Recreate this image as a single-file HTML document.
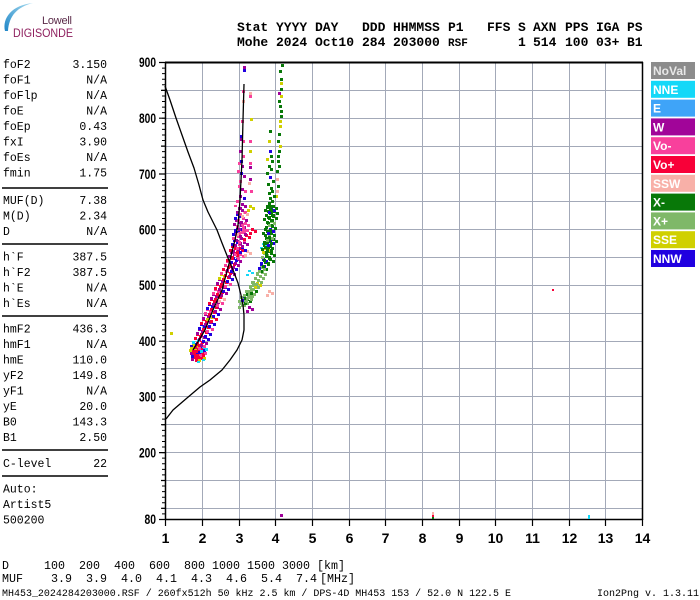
<!DOCTYPE html>
<html><head><meta charset="utf-8"><style>
html,body{margin:0;padding:0;background:#fff;}
svg{display:block;}
.m{font-family:"Liberation Mono",monospace;}
.s{font-family:"Liberation Sans",sans-serif;}
</style></head><body>
<svg width="700" height="600" viewBox="0 0 700 600" xmlns="http://www.w3.org/2000/svg">
<rect width="700" height="600" fill="#fff"/>
<!-- logo -->
<defs><linearGradient id="lg" x1="0" y1="1" x2="1" y2="0"><stop offset="0" stop-color="#1f86c8"/><stop offset="1" stop-color="#a8dcf0"/></linearGradient>
<clipPath id="lo"><rect x="160" y="205" width="140" height="160"/></clipPath></defs>
<path d="M5,31 C2,18 12,5 33,3 C17,7 9,16 8,31 Z" fill="url(#lg)"/>
<text x="42" y="24" class="s" font-family="Liberation Serif,serif" font-size="11" fill="#5a2a48" textLength="30">Lowell</text>
<text x="13" y="37" class="s" font-size="12" fill="#8e1f5e" textLength="60" lengthAdjust="spacingAndGlyphs">DIGISONDE</text>
<!-- header -->
<g class="m" font-size="13" font-weight="bold" fill="#000">
<text x="237" y="31">Stat</text><text x="276" y="31">YYYY</text><text x="315" y="31">DAY</text><text x="362" y="31">DDD</text><text x="393" y="31">HHMMSS</text><text x="448" y="31">P1</text><text x="487" y="31">FFS</text><text x="518" y="31">S</text><text x="533" y="31">AXN</text><text x="565" y="31">PPS</text><text x="596" y="31">IGA</text><text x="627" y="31">PS</text>
<text x="237" y="46">Mohe</text><text x="276" y="46">2024</text><text x="315" y="46">Oct10</text><text x="362" y="46">284</text><text x="393" y="46">203000</text><text x="448" y="46" font-size="11">RSF</text><text x="518" y="46">1</text><text x="533" y="46">514</text><text x="565" y="46">100</text><text x="596" y="46">03+</text><text x="627" y="46">B1</text>
</g>
<!-- left panel -->
<g class="m" font-size="11.5" fill="#000">
<text x="3" y="68">foF2</text><text x="107" y="68" text-anchor="end">3.150</text>
<text x="3" y="83.5">foF1</text><text x="107" y="83.5" text-anchor="end">N/A</text>
<text x="3" y="99">foFlp</text><text x="107" y="99" text-anchor="end">N/A</text>
<text x="3" y="114.5">foE</text><text x="107" y="114.5" text-anchor="end">N/A</text>
<text x="3" y="130">foEp</text><text x="107" y="130" text-anchor="end">0.43</text>
<text x="3" y="145.5">fxI</text><text x="107" y="145.5" text-anchor="end">3.90</text>
<text x="3" y="161">foEs</text><text x="107" y="161" text-anchor="end">N/A</text>
<text x="3" y="176.5">fmin</text><text x="107" y="176.5" text-anchor="end">1.75</text>
<text x="3" y="204">MUF(D)</text><text x="107" y="204" text-anchor="end">7.38</text>
<text x="3" y="219.5">M(D)</text><text x="107" y="219.5" text-anchor="end">2.34</text>
<text x="3" y="235">D</text><text x="107" y="235" text-anchor="end">N/A</text>
<text x="3" y="260.5">h`F</text><text x="107" y="260.5" text-anchor="end">387.5</text>
<text x="3" y="276">h`F2</text><text x="107" y="276" text-anchor="end">387.5</text>
<text x="3" y="291.5">h`E</text><text x="107" y="291.5" text-anchor="end">N/A</text>
<text x="3" y="307">h`Es</text><text x="107" y="307" text-anchor="end">N/A</text>
<text x="3" y="332.5">hmF2</text><text x="107" y="332.5" text-anchor="end">436.3</text>
<text x="3" y="348">hmF1</text><text x="107" y="348" text-anchor="end">N/A</text>
<text x="3" y="363.5">hmE</text><text x="107" y="363.5" text-anchor="end">110.0</text>
<text x="3" y="379">yF2</text><text x="107" y="379" text-anchor="end">149.8</text>
<text x="3" y="394.5">yF1</text><text x="107" y="394.5" text-anchor="end">N/A</text>
<text x="3" y="410">yE</text><text x="107" y="410" text-anchor="end">20.0</text>
<text x="3" y="425.5">B0</text><text x="107" y="425.5" text-anchor="end">143.3</text>
<text x="3" y="441">B1</text><text x="107" y="441" text-anchor="end">2.50</text>
<text x="3" y="467">C-level</text><text x="107" y="467" text-anchor="end">22</text>
<text x="3" y="492.5">Auto:</text>
<text x="3" y="508">Artist5</text>
<text x="3" y="523.5">500200</text>
</g>
<g stroke="#000" stroke-width="1.5">
<line x1="2" y1="188" x2="108" y2="188"/><line x1="2" y1="244" x2="108" y2="244"/><line x1="2" y1="316" x2="108" y2="316"/><line x1="2" y1="450" x2="108" y2="450"/><line x1="2" y1="476" x2="108" y2="476"/>
</g>
<!-- grid -->
<g stroke="#a3a9b8" stroke-width="1">
<path d="M165,90.5H643M165,118.5H643M165,146.5H643M165,173.5H643M165,201.5H643M165,229.5H643M165,257.5H643M165,285.5H643M165,313.5H643M165,341.5H643M165,368.5H643M165,396.5H643M165,424.5H643M165,452.5H643M165,480.5H643M165,508.5H643"/>
<path d="M202.5,62V519M239.5,62V519M275.5,62V519M312.5,62V519M349.5,62V519M385.5,62V519M422.5,62V519M459.5,62V519M495.5,62V519M532.5,62V519M569.5,62V519M605.5,62V519"/>
</g>
<!-- axes -->
<g stroke="#000" fill="none">
<line x1="165" y1="62.5" x2="643" y2="62.5" stroke-width="2"/>
<line x1="642.5" y1="62" x2="642.5" y2="520" stroke-width="1.5"/>
<line x1="165.5" y1="62" x2="165.5" y2="520" stroke-width="1.5"/>
<line x1="165" y1="519.5" x2="643" y2="519.5" stroke-width="1.5"/>
<line x1="163.5" y1="62" x2="163.5" y2="520" stroke-width="3" stroke-dasharray="1 4.573"/>
<path stroke-width="1.2" d="M159,62.5H166M159,118.2H166M159,174H166M159,229.7H166M159,285.4H166M159,341.2H166M159,396.9H166M159,452.6H166M159,519.5H166M161,90.4H166M161,146.1H166M161,201.8H166M161,257.6H166M161,313.3H166M161,369H166M161,424.7H166M161,480.5H166M161,508.3H166"/>
<path stroke-width="1.2" d="M165.5,519V526M202.5,519V526M239.5,519V526M275.5,519V526M312.5,519V526M349.5,519V526M385.5,519V526M422.5,519V526M459.5,519V526M495.5,519V526M532.5,519V526M569.5,519V526M605.5,519V526M642.5,519V526"/>
</g>
<g class="s" font-weight="bold" font-size="13.5" fill="#000" text-anchor="end">
<text x="156" y="67" textLength="17" lengthAdjust="spacingAndGlyphs">900</text>
<text x="156" y="123" textLength="17" lengthAdjust="spacingAndGlyphs">800</text>
<text x="156" y="179" textLength="17" lengthAdjust="spacingAndGlyphs">700</text>
<text x="156" y="234.5" textLength="17" lengthAdjust="spacingAndGlyphs">600</text>
<text x="156" y="290" textLength="17" lengthAdjust="spacingAndGlyphs">500</text>
<text x="156" y="346" textLength="17" lengthAdjust="spacingAndGlyphs">400</text>
<text x="156" y="401.5" textLength="17" lengthAdjust="spacingAndGlyphs">300</text>
<text x="156" y="457.5" textLength="17" lengthAdjust="spacingAndGlyphs">200</text>
<text x="156" y="524" textLength="11.5" lengthAdjust="spacingAndGlyphs">80</text>
</g>
<g class="s" font-weight="bold" font-size="14" fill="#000" text-anchor="middle">
<text x="165.5" y="543">1</text><text x="202.5" y="543">2</text><text x="239.5" y="543">3</text><text x="275.5" y="543">4</text><text x="312.5" y="543">5</text><text x="349.5" y="543">6</text><text x="385.5" y="543">7</text><text x="422.5" y="543">8</text><text x="459.5" y="543">9</text><text x="495.5" y="543">10</text><text x="532.5" y="543">11</text><text x="569.5" y="543">12</text><text x="605.5" y="543">13</text><text x="642.5" y="543">14</text>
</g>
<!-- points -->
<g id="tr">
<path fill="#a0009a" d="M243,66h3v3h-3zM240,138h3v3h-3zM239,150h3v3h-3zM241,165h3v3h-3zM249,166h3v3h-3zM243,175h3v3h-3zM249,178h3v3h-3zM241,188h3v3h-3zM239,195h3v3h-3zM241,203h3v3h-3zM238,207h3v3h-3zM242,217h3v3h-3zM235,219h3v3h-3zM240,224h3v3h-3zM241,231h3v3h-3zM237,235h3v3h-3zM236,240h3v3h-3zM243,241h3v3h-3zM234,246h3v3h-3zM230,251h3v3h-3zM236,258h3v3h-3zM234,262h3v3h-3zM228,265h3v3h-3zM230,271h3v3h-3zM218,278h3v3h-3zM220,284h3v3h-3zM222,290h3v3h-3zM212,293h3v3h-3zM214,299h3v3h-3zM216,306h3v3h-3zM204,313h3v3h-3zM206,319h3v3h-3zM198,328h3v3h-3zM200,334h3v3h-3zM202,340h3v3h-3zM192,348h3v3h-3zM193,354h3v3h-3zM278,92h3v3h-3zM248,306h3v3h-3z"/>
<path fill="#f8409c" d="M242,90h3v3h-3zM249,95h3v3h-3zM241,120h3v3h-3zM242,140h3v3h-3zM249,140h3v3h-3zM242,155h3v3h-3zM238,162h3v3h-3zM249,162h3v3h-3zM238,185h3v3h-3zM244,190h3v3h-3zM250,190h3v3h-3zM236,200h3v3h-3zM241,209h3v3h-3zM239,215h3v3h-3zM238,221h3v3h-3zM244,222h3v3h-3zM243,227h3v3h-3zM234,233h3v3h-3zM240,237h3v3h-3zM238,243h3v3h-3zM236,249h3v3h-3zM239,253h3v3h-3zM226,260h3v3h-3zM222,268h3v3h-3zM226,281h3v3h-3zM214,288h3v3h-3zM218,300h3v3h-3zM206,308h3v3h-3zM208,326h3v3h-3zM200,343h3v3h-3zM201,350h3v3h-3zM239,180h3v3h-3zM237,170h3v3h-3zM240,228h3v3h-3z"/>
<path fill="#f80038" d="M245,234h3v3h-3zM231,245h3v3h-3zM233,252h3v3h-3zM228,255h3v3h-3zM230,261h3v3h-3zM224,264h3v3h-3zM226,270h3v3h-3zM224,274h3v3h-3zM222,279h3v3h-3zM216,283h3v3h-3zM218,289h3v3h-3zM216,294h3v3h-3zM210,298h3v3h-3zM212,304h3v3h-3zM210,309h3v3h-3zM212,316h3v3h-3zM202,318h3v3h-3zM204,324h3v3h-3zM202,329h3v3h-3zM196,333h3v3h-3zM198,339h3v3h-3zM196,342h3v3h-3zM194,346h3v3h-3zM197,346h3v3h-3zM195,349h3v3h-3zM198,350h3v3h-3zM196,352h3v3h-3zM199,352h3v3h-3zM197,355h3v3h-3zM251,228h3v3h-3zM238,247h3v3h-3z"/>
<path fill="#2000e0" d="M243,69h3v3h-3zM240,135h3v3h-3zM240,172h3v3h-3zM243,197h3v3h-3zM236,213h3v3h-3zM236,226h3v3h-3zM233,239h3v3h-3zM241,247h3v3h-3zM232,257h3v3h-3zM232,266h3v3h-3zM228,276h3v3h-3zM224,286h3v3h-3zM208,303h3v3h-3zM214,311h3v3h-3zM210,321h3v3h-3zM200,323h3v3h-3zM206,331h3v3h-3zM204,336h3v3h-3zM192,341h3v3h-3zM200,347h3v3h-3zM193,351h3v3h-3zM243,295h3v3h-3zM269,240h3v3h-3zM269,228h3v3h-3zM270,207h3v3h-3zM269,176h3v3h-3zM269,150h3v3h-3zM260,263h3v3h-3zM262,258h3v3h-3zM240,160h3v3h-3zM234,229h3v3h-3z"/>
<path fill="#f8b0a8" d="M249,92h3v3h-3zM248,182h3v3h-3zM243,211h3v3h-3zM238,229h3v3h-3zM220,296h3v3h-3zM276,178h3v3h-3zM276,190h3v3h-3zM268,290h3v3h-3zM246,250h3v3h-3zM242,100h3v3h-3z"/>
<path fill="#d0d000" d="M250,118h3v3h-3zM249,150h3v3h-3zM249,205h3v3h-3zM220,273h3v3h-3zM208,314h3v3h-3zM191,345h3v3h-3zM200,355h3v3h-3zM192,343h3v3h-3zM256,282h3v3h-3zM264,247h3v3h-3zM266,158h3v3h-3zM268,140h3v3h-3zM280,82h3v3h-3zM280,95h3v3h-3zM279,120h3v3h-3zM279,125h3v3h-3zM279,145h3v3h-3zM275,195h3v3h-3z"/>
<path fill="#14d8f8" d="M194,337h3v3h-3zM202,346h3v3h-3zM199,357h3v2h-3zM248,270h3v2h-3zM262,243h3v2h-3z"/>
<path fill="#087808" d="M246,298h3v3h-3zM252,288h3v3h-3zM262,266h3v3h-3zM264,261h3v3h-3zM265,255h3v3h-3zM267,250h3v3h-3zM268,245h3v3h-3zM266,242h3v3h-3zM265,237h3v3h-3zM270,232h3v3h-3zM266,230h3v3h-3zM271,225h3v3h-3zM267,222h3v3h-3zM268,217h3v3h-3zM272,215h3v3h-3zM269,212h3v3h-3zM267,210h3v3h-3zM272,205h3v3h-3zM268,202h3v3h-3zM271,200h3v3h-3zM269,197h3v3h-3zM273,195h3v3h-3zM268,192h3v3h-3zM271,190h3v3h-3zM270,187h3v3h-3zM267,183h3v3h-3zM272,180h3v3h-3zM266,172h3v3h-3zM270,168h3v3h-3zM268,165h3v3h-3zM271,160h3v3h-3zM270,155h3v3h-3zM269,130h3v3h-3zM281,64h3v3h-3zM280,78h3v3h-3zM278,100h3v3h-3zM280,110h3v3h-3zM280,115h3v3h-3zM278,133h3v3h-3zM277,140h3v3h-3zM278,150h3v3h-3zM277,155h3v3h-3zM277,160h3v3h-3zM278,165h3v3h-3zM276,170h3v3h-3zM277,185h3v3h-3zM246,293h3v3h-3zM279,70h3v3h-3zM280,88h3v3h-3zM279,105h3v3h-3zM264,228h3v3h-3zM272,238h3v3h-3zM267,247h3v3h-3zM270,252h3v3h-3zM266,205h3v3h-3zM273,210h3v3h-3zM265,214h3v3h-3zM263,244h3v3h-3zM269,258h3v3h-3z"/>
<path fill="#7fb868" d="M240,302h3v3h-3zM243,300h3v3h-3zM240,296h3v3h-3zM248,293h3v3h-3zM250,291h3v3h-3zM245,290h3v3h-3zM249,286h3v3h-3zM254,284h3v3h-3zM251,281h3v3h-3zM257,279h3v3h-3zM254,277h3v3h-3zM259,275h3v3h-3zM256,273h3v3h-3zM261,271h3v3h-3zM258,268h3v3h-3zM263,252h3v3h-3zM268,235h3v3h-3zM270,220h3v3h-3zM242,298h3v3h-3zM247,296h3v3h-3zM252,284h3v3h-3zM260,266h3v3h-3z"/>
</g>
<g clip-path="url(#lo)">
<use href="#tr" transform="translate(3,2)"/>
<use href="#tr" transform="translate(-2,4)"/>
</g>
<!-- isolated points -->
<path fill="#a0009a" d="M280,514h3v3h-3z"/>
<path fill="#f80038" d="M552,289h2v2h-2zM432,515h2v2h-2z"/>
<path fill="#f8b0a8" d="M432,512h2v3h-2z"/>
<path fill="#087808" d="M432,517h2v2h-2z"/>
<path fill="#d0d000" d="M170,332h3v3h-3z"/>
<path fill="#14d8f8" d="M588,515h2v4h-2z"/>
<!-- curves -->
<g fill="none" stroke="#000" stroke-width="1.3" stroke-linejoin="round">
<polyline points="165,86 170,100 176,118 182,135 188,152 194,168 199,185 203,200 208,212 217,230 222,243 228,258 233,270 238,283 241,295 243,305 244,315 244,330 242,340 237,350 230,360 222,370 210,380 200,387 187,398 173,410 166,419"/>
<polyline points="244,84 243,120 242,160 240,200 238,225 235,240 230,260 222,290 213,310 205,330 193,350"/>
</g>
<!-- legend -->
<g class="s" font-weight="bold" font-size="12" fill="#fff">
<rect x="651" y="62" width="44" height="17" fill="#8c8c8c"/><text x="653" y="75" fill="#e8e8e8">NoVal</text>
<rect x="651" y="80.8" width="44" height="17" fill="#14d8f8"/><text x="653" y="93.8">NNE</text>
<rect x="651" y="99.6" width="44" height="17" fill="#3fa4f8"/><text x="653" y="112.6">E</text>
<rect x="651" y="118.4" width="44" height="17" fill="#a10599"/><text x="653" y="131.4">W</text>
<rect x="651" y="137.2" width="44" height="17" fill="#f8409c"/><text x="653" y="150.2">Vo-</text>
<rect x="651" y="156" width="44" height="17" fill="#f80038"/><text x="653" y="169">Vo+</text>
<rect x="651" y="174.8" width="44" height="17" fill="#f8b0a8"/><text x="653" y="187.8">SSW</text>
<rect x="651" y="193.6" width="44" height="17" fill="#087808"/><text x="653" y="206.6">X-</text>
<rect x="651" y="212.4" width="44" height="17" fill="#7fb868"/><text x="653" y="225.4">X+</text>
<rect x="651" y="231.2" width="44" height="17" fill="#d0d000"/><text x="653" y="244.2">SSE</text>
<rect x="651" y="250" width="44" height="17" fill="#2000e0"/><text x="653" y="263">NNW</text>
</g>
<!-- bottom text -->
<g class="m" font-size="11.67" fill="#000">
<text x="2" y="569">D</text><text x="44" y="569">100</text><text x="79" y="569">200</text><text x="114" y="569">400</text><text x="149" y="569">600</text><text x="184" y="569">800</text><text x="212" y="569">1000</text><text x="247" y="569">1500</text><text x="282" y="569">3000</text><text x="317" y="569">[km]</text>
<text x="2" y="582">MUF</text><text x="51" y="582">3.9</text><text x="86" y="582">3.9</text><text x="121" y="582">4.0</text><text x="156" y="582">4.1</text><text x="191" y="582">4.3</text><text x="226" y="582">4.6</text><text x="261" y="582">5.4</text><text x="296" y="582">7.4</text><text x="320" y="582">[MHz]</text>
</g>
<g class="m" font-size="10" fill="#000">
<text x="2" y="596" textLength="509" lengthAdjust="spacingAndGlyphs">MH453_2024284203000.RSF / 260fx512h 50 kHz 2.5 km / DPS-4D MH453 153 / 52.0 N 122.5 E</text>
<text x="597" y="596">Ion2Png v. 1.3.11</text>
</g>
</svg>
</body></html>
